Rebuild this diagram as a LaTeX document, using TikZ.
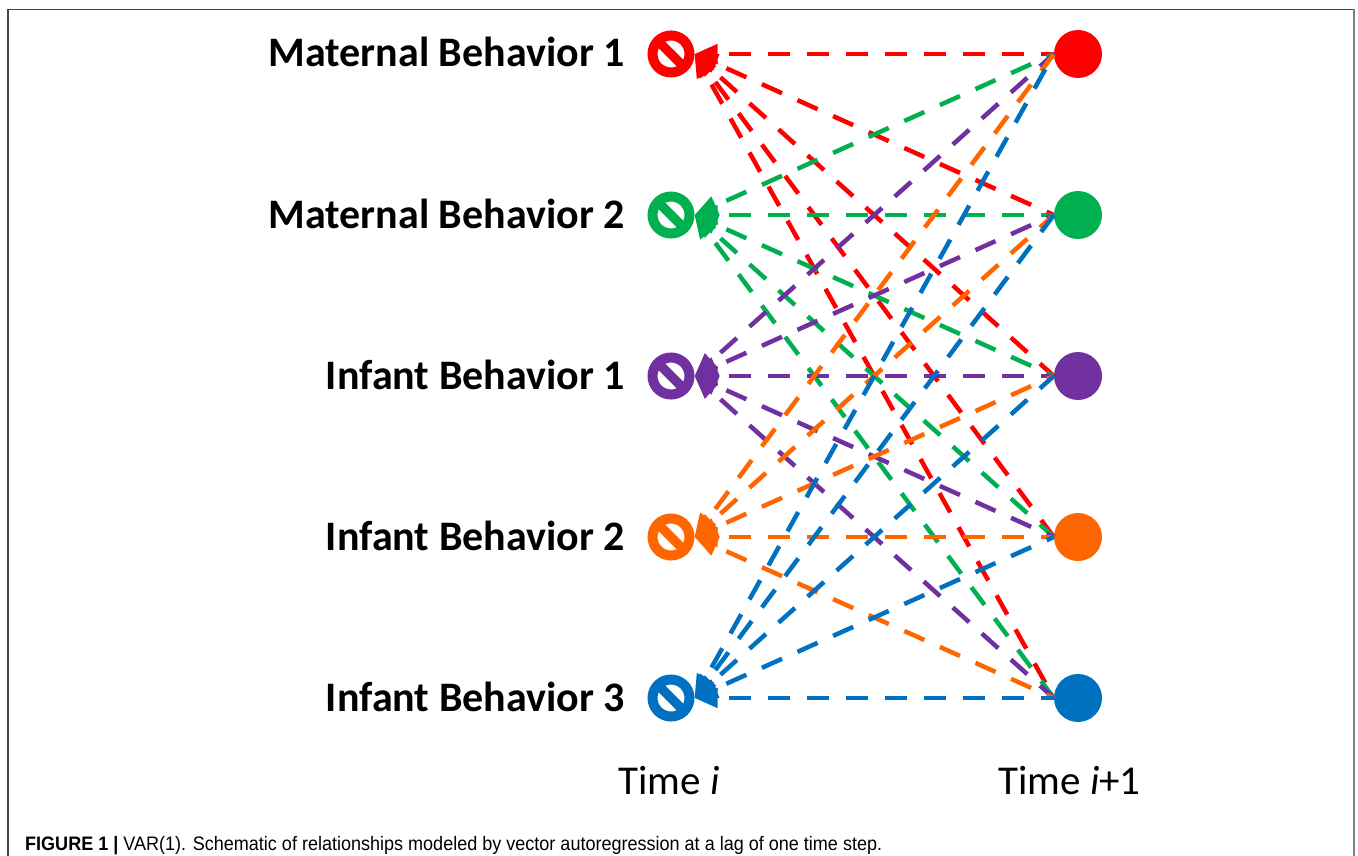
\documentclass[tikz,border=0pt]{standalone}
\usepackage{fontspec}
\setmainfont{Carlito}
\newfontfamily\capfont{Liberation Sans}
\usetikzlibrary{arrows.meta}
\definecolor{cred}{RGB}{255,0,0}
\definecolor{cgreen}{RGB}{0,176,80}
\definecolor{cpurple}{RGB}{112,48,160}
\definecolor{corange}{RGB}{255,102,0}
\definecolor{cblue}{RGB}{0,112,192}
\definecolor{frameline}{RGB}{70,70,70}
\tikzset{
  ring/.style={circle, draw, line width=10pt, minimum size=37pt, inner sep=0pt},
  dot/.style={circle, fill, minimum size=48pt, inner sep=0pt},
  lab/.style={anchor=base east, font=\fontsize{42}{44}\selectfont\bfseries, inner sep=0pt},
  timelab/.style={anchor=base west, font=\fontsize{41}{44}\selectfont, inner sep=0pt},
  dl/.style={line width=4.5pt, dash pattern=on 22pt off 17pt, dash phase=26pt},
  tip/.style={{Triangle[length=23pt,width=19pt]}-},
}
\begin{document}
\begin{tikzpicture}[x=1pt,y=-1pt]
\useasboundingbox (0,0) rectangle (1358,856);
% frame
\draw[frameline, line width=1.3pt] (8,860) -- (8,9.5) -- (1354,9.5);
\draw[gray, line width=2pt] (1354,9.5) -- (1354,860);
% nodes
\foreach \k/\c/\yy in {1/cred/54,2/cgreen/215,3/cpurple/376,4/corange/537,5/cblue/698}{
  \node[ring, draw=\c] (l\k) at (671,\yy) {};
  \draw[\c, line width=9.5pt] ([shift={(135:16pt)}]l\k.center) -- ([shift={(-45:16pt)}]l\k.center);
  \node[dot, fill=\c] (r\k) at (1078,\yy) {};
}
% labels
\node[lab] (t1) at (625,67) {Maternal Behavior 1};
\node[lab] (t2) at (625,228) {Maternal Behavior 2};
\node[lab] (t3) at (625,389) {Infant Behavior 1};
\node[lab] (t4) at (625,550) {Infant Behavior 2};
\node[lab] (t5) at (625,711) {Infant Behavior 3};
% connectors
\foreach \i/\c in {1/cred,2/cgreen,3/cpurple,4/corange,5/cblue}{
  \foreach \j in {1,...,5}{
    \draw[dl, tip, \c] (l\i.east) -- (r\j.west);
  }
}
% time labels
\node[timelab] (ti) at (618,794) {Time \textit{i}};
\node[timelab] (ti1) at (998,794) {Time \textit{i}+1};
% caption
\node[anchor=base west, inner sep=0pt, font=\capfont\fontsize{19.5}{21}\selectfont] (cap) at (25,850)
  {\resizebox{857pt}{\height}{\textbf{FIGURE 1 |} VAR(1). Schematic of relationships modeled by vector autoregression at a lag of one time step.}};
\end{tikzpicture}
\end{document}
